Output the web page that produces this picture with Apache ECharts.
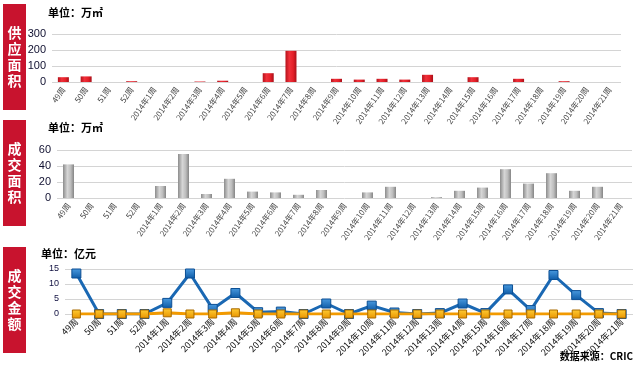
<!DOCTYPE html>
<html><head><meta charset="utf-8">
<script src="https://cdn.jsdelivr.net/npm/echarts@6/dist/echarts.min.js"></script>
<style>html,body{margin:0;padding:0;background:#fff}#c{width:639px;height:368px}</style>
</head><body><div id="c"></div>
<script>
const categories = ['49周','50周','51周','52周','2014年1周','2014年2周','2014年3周','2014年4周','2014年5周','2014年6周','2014年7周','2014年8周','2014年9周','2014年10周','2014年11周','2014年12周','2014年13周','2014年14周','2014年15周','2014年16周','2014年17周','2014年18周','2014年19周','2014年20周','2014年21周'];
const supplyArea = [30,35,0,5,0,0,3,8,0,55,195,0,20,15,20,15,45,0,30,0,20,0,5,0,0];
const dealArea = [42,0,0,0,15,55,5,24,8,7,4,10,0,7,14,0,1,9,13,36,18,31,9,14,0];
const dealAmountA = [13.5,0,0,0,3.7,13.5,1.7,7,0.6,0.8,0,3.5,0,2.8,0.5,0,0.3,3.5,0.3,8.2,1.3,13,6.3,0.3,0];
const dealAmountB = [0,0,0,0,0.4,0,0,0.4,0,0,0,0,0,0,0,0,0,0,0,0,0,0,0,0,0];
const ticks1 = [0,100,200,300];
const ticks2 = [0,20,40,60];
const ticks3 = [0,5,10,15];
const panelTitles = ['供应面积','成交面积','成交金额'];

const FONT = '"Liberation Sans","Noto Sans CJK SC",sans-serif';
const chart = echarts.init(document.getElementById('c'), null, {renderer:'canvas'});
const redGrad = new echarts.graphic.LinearGradient(0,0,1,0,[{offset:0,color:'#b5121b'},{offset:0.35,color:'#f0303a'},{offset:0.7,color:'#e41f28'},{offset:1,color:'#a80f18'}]);
const grayGrad = new echarts.graphic.LinearGradient(0,0,1,0,[{offset:0,color:'#8c8c8c'},{offset:0.4,color:'#d6d6d6'},{offset:0.7,color:'#bdbdbd'},{offset:1,color:'#858585'}]);
const blueGrad = new echarts.graphic.LinearGradient(0,0,0,1,[{offset:0,color:'#4a9be0'},{offset:1,color:'#0d5aa6'}]);
const orGrad = new echarts.graphic.LinearGradient(0,0,0,1,[{offset:0,color:'#ffcc33'},{offset:1,color:'#e89400'}]);

function xAx(gi, rot, fs, col){
  return {type:'category', gridIndex:gi, data:categories, boundaryGap:true,
    axisLine:{show:false}, axisTick:{show:false},
    axisLabel:{interval:0, rotate:rot, fontSize:fs, color:col, fontFamily:'"Noto Sans CJK SC",sans-serif', margin:6}};
}
function yAx(gi, ticks, fs, col){
  return {type:'value', gridIndex:gi, min:ticks[0], max:ticks[ticks.length-1], interval:ticks[1]-ticks[0],
    axisLine:{show:false}, axisTick:{show:false},
    splitLine:{lineStyle:{color:'#d4d4d4', width:1}},
    axisLabel:{fontSize:fs, color:col, fontFamily:FONT, margin:6}};
}
const graphics = [];
const boxes = [[4,106],[120,106],[247,106]];
boxes.forEach((b,i)=>{
  graphics.push({type:'rect', left:3, top:b[0], shape:{width:23,height:b[1]}, style:{fill:'#c8132e'}, z:10});
  graphics.push({type:'text', x:14.5, y:b[0]+b[1]/2, style:{text:panelTitles[i].split('').join('\n'), fill:'#fff', font:'bold 14px "Noto Sans CJK SC"', lineHeight:16, align:'center', verticalAlign:'middle'}, z:11});
});
graphics.push({type:'text', left:48, top:7, style:{text:'单位：万㎡', fill:'#000', font:'bold 11px "Noto Sans CJK SC"'}});
graphics.push({type:'text', left:48, top:122, style:{text:'单位：万㎡', fill:'#000', font:'bold 11px "Noto Sans CJK SC"'}});
graphics.push({type:'text', left:41, top:248, style:{text:'单位：亿元', fill:'#000', font:'bold 11px "Noto Sans CJK SC"'}});
graphics.push({type:'text', right:6, top:351, style:{text:'数据来源：CRIC', fill:'#000', font:'bold 10px "Noto Sans CJK SC"'}});

chart.setOption({
  animation:false,
  grid:[
    {left:52, top:34, width:569, height:48},
    {left:57, top:150, width:575, height:48},
    {left:65, top:269, width:568, height:45}
  ],
  xAxis:[xAx(0,55,8,'#444'), xAx(1,55,8,'#444'), xAx(2,45,9,'#111')],
  yAxis:[yAx(0,ticks1,11,'#101030'), yAx(1,ticks2,11,'#101030'), yAx(2,ticks3,9,'#101040')],
  graphic:graphics,
  series:[
    {type:'bar', xAxisIndex:0, yAxisIndex:0, data:supplyArea, barWidth:11,
      itemStyle:{color:redGrad}},
    {type:'bar', xAxisIndex:1, yAxisIndex:1, data:dealArea, barWidth:11,
      itemStyle:{color:grayGrad}},
    {type:'line', xAxisIndex:2, yAxisIndex:2, data:dealAmountA, symbol:'rect', symbolSize:9,
      lineStyle:{color:'#1a68b3', width:3}, itemStyle:{color:blueGrad, borderColor:'#0c4f94', borderWidth:1}, z:2},
    {type:'line', xAxisIndex:2, yAxisIndex:2, data:dealAmountB, symbol:'rect', symbolSize:8,
      lineStyle:{color:'#f29a00', width:3}, itemStyle:{color:orGrad, borderColor:'#a86a00', borderWidth:1}, z:3}
  ]
});
</script></body></html>
